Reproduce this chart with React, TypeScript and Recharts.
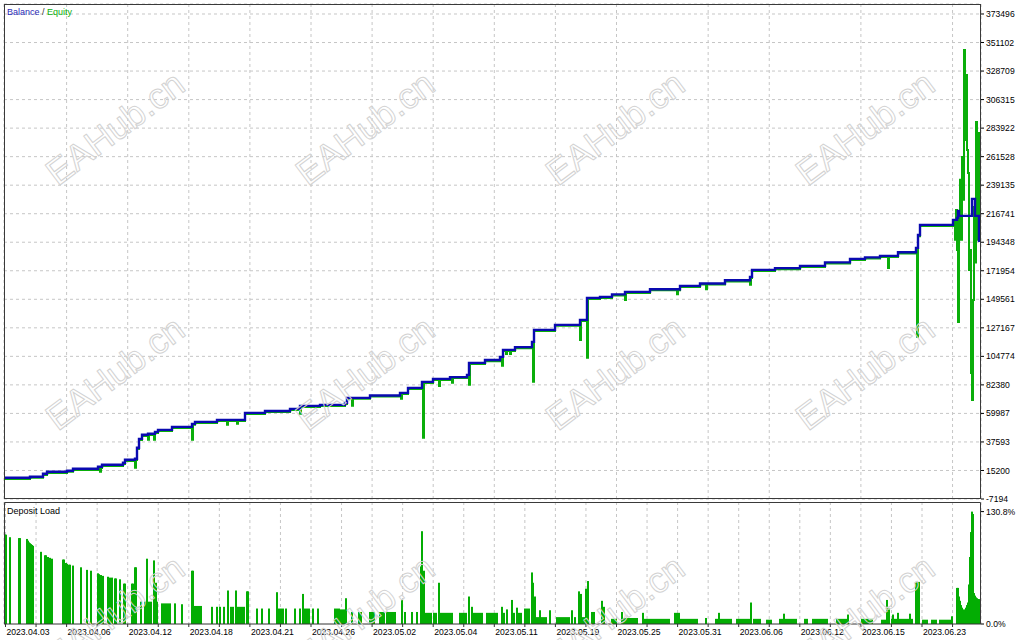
import React from "react";
import { ComposedChart, Line, Bar, XAxis, YAxis, CartesianGrid } from "recharts";

const FONT = "'Liberation Sans', Arial, sans-serif";
const BALANCE_COLOR = "#0a0ab0";
const EQUITY_COLOR = "#0aae0a";
const LOAD_COLOR = "#03ad03";
const GRID_COLOR = "#c6c6c6";

// t = position along the test (same scale for both panels)
const T_MIN = 4;
const T_MAX = 981;
const GRID_START = 5.5;
const GRID_STEP = 30.55;

const DATE_LABELS = [
  "2023.04.03", "2023.04.06", "2023.04.12", "2023.04.18", "2023.04.21", "2023.04.26",
  "2023.05.02", "2023.05.04", "2023.05.11", "2023.05.19", "2023.05.25", "2023.05.31",
  "2023.06.06", "2023.06.12", "2023.06.15", "2023.06.23",
];

const Y_TICKS = [
  -7194, 15200, 37593, 59987, 82380, 104774, 127167, 149561, 171954, 194348,
  216741, 239135, 261528, 283922, 306315, 328709, 351102, 373496,
];
const Y_DOMAIN = [-7194, 381342];

const LOAD_TICKS = [0, 130.8];
const LOAD_DOMAIN = [0, 142];

// balance changes at deal close -> drawn as steps
const balance: [number, number][] = [
  [4, 9442], [30, 10227], [43, 12581], [47, 14150], [67, 14935], [73, 16504], [98, 18073],
  [102, 19642], [123, 21211], [125, 23565], [135, 24350], [137, 32980], [139, 40000],
  [142, 43179], [148, 43964], [155, 45533], [158, 47102], [172, 49456], [192, 51810],
  [195, 53379], [217, 54948], [245, 60441], [265, 61900], [290, 63579], [300, 65933],
  [320, 66717], [345, 68287], [347, 72210], [370, 74000], [400, 76133], [408, 80056],
  [422, 84763], [433, 87117], [450, 88500], [467, 90255], [469, 99671], [485, 101900],
  [500, 104378], [503, 109870], [515, 112000], [532, 116147], [534, 125562], [555, 129500],
  [580, 133408], [587, 150670], [600, 151454], [612, 153400], [625, 155377], [650, 157500],
  [680, 160085], [700, 162000], [725, 164500], [750, 167146], [752, 172638], [775, 174000],
  [800, 175777], [825, 178500], [850, 181269], [865, 182500], [880, 183623], [898, 186500],
  [916, 189900], [918, 200000], [920, 207945], [953, 211868], [957, 213438], [958, 218930],
  [959, 215007], [972, 228345], [975, 215007], [979, 194607],
];

const equity: [number, number][] = [
  [4, 8600], [30, 9400], [43, 11700], [47, 13300], [67, 14100], [73, 15600], [98, 17200],
  [100, 14150], [101, 17200], [102, 18800], [123, 20300], [125, 22700], [135, 17300],
  [136, 23500], [137, 32000], [139, 39200], [142, 42300], [148, 39300], [149, 43100],
  [154, 39300], [155, 44700], [158, 46200], [172, 48600], [192, 39300], [193, 51000],
  [195, 52500], [217, 54100], [227, 51000], [228, 54100], [237, 51800], [238, 54100],
  [245, 59600], [265, 61000], [290, 62700], [300, 59700], [301, 65100], [320, 65900],
  [345, 67400], [347, 71400], [352, 66000], [353, 71400], [370, 73200], [400, 75300],
  [401, 71500], [402, 75300], [408, 79200], [422, 83900], [423, 40800], [424, 83900],
  [433, 86300], [439, 81600], [440, 86300], [450, 87700], [452, 84000], [453, 87700],
  [467, 89400], [469, 82400], [470, 98800], [485, 101000], [500, 103500], [502, 97300],
  [503, 109000], [506, 106700], [507, 109000], [510, 106700], [511, 109000], [515, 111200],
  [532, 115300], [533, 84800], [534, 124700], [555, 128700], [580, 117700], [581, 132600],
  [587, 103600], [588, 149800], [600, 150600], [612, 152600], [625, 149100], [626, 154500],
  [650, 156700], [677, 153500], [678, 156700], [680, 159200], [700, 161100], [706, 157500],
  [707, 161100], [725, 163600], [750, 160900], [751, 166300], [752, 171800], [775, 173100],
  [800, 174900], [825, 177600], [850, 180400], [865, 181600], [880, 182800], [888, 174200],
  [889, 182800], [898, 185600], [916, 189000], [917, 120100], [918, 199000], [920, 207100],
  [953, 210300], [955, 196200], [956, 219700], [957, 188300], [958, 131800], [959, 215800],
  [960, 243300], [961, 196200], [962, 261300], [963, 227600], [964, 345200], [965, 274600],
  [966, 325600], [967, 266800], [968, 248700], [969, 172600], [970, 188300], [971, 91800],
  [972, 70600], [973, 149100], [974, 222100], [975, 178500], [976, 288800], [977, 196200],
  [978, 280100], [979, 207900],
];

// deposit load, percent
const depositLoad: [number, number][] = [
  [5, 104], [6, 104], [10, 101], [19, 100], [20, 100], [27, 99], [28, 97], [29, 95], [30, 94],
  [31, 93], [32, 92], [33, 91], [41, 84], [45, 80], [46, 80], [48, 78], [50, 77], [52, 76],
  [63, 75], [64, 75], [66, 71], [67, 70], [69, 69], [70, 69], [73, 68], [81, 66], [87, 63],
  [91, 62], [98, 59], [99, 58], [101, 57], [103, 56], [108, 55], [110, 54], [112, 54],
  [115, 53], [116, 53], [120, 52], [124, 47], [125, 47], [132, 47], [133, 47], [135, 66],
  [136, 66], [141, 26], [145, 26], [147, 76], [149, 26], [151, 26], [154, 74], [156, 48],
  [157, 26], [162, 24], [164, 24], [166, 24], [168, 24], [170, 24], [175, 24], [182, 23],
  [192, 62], [193, 62], [195, 21], [197, 21], [199, 21], [201, 21], [212, 20], [217, 20],
  [220, 20], [224, 20], [228, 39], [231, 20], [233, 20], [236, 39], [238, 20], [240, 20],
  [242, 20], [244, 20], [247, 38], [248, 38], [257, 18], [262, 18], [269, 18], [277, 37],
  [279, 18], [281, 18], [283, 18], [286, 18], [295, 18], [300, 18], [303, 35], [305, 18],
  [307, 18], [309, 18], [313, 18], [318, 18], [335, 18], [337, 18], [339, 18],
  [341, 17], [343, 17], [345, 17], [346, 30], [352, 14], [359, 14], [361, 14], [370, 14],
  [372, 14], [374, 14], [380, 14], [382, 14], [384, 14], [387, 14], [389, 14], [391, 14],
  [393, 14], [395, 14], [402, 28], [405, 14], [412, 14], [417, 14], [421, 67], [422, 108],
  [424, 62], [425, 13], [427, 13], [429, 13], [431, 13], [434, 13], [436, 13], [439, 48],
  [440, 13], [442, 13], [444, 13], [446, 13], [448, 13], [450, 13], [452, 13], [460, 13],
  [462, 13], [464, 13], [466, 13], [469, 32], [472, 20], [474, 13], [476, 13], [478, 13],
  [480, 13], [482, 13], [487, 13], [489, 13], [491, 13], [493, 13], [495, 13], [497, 13],
  [502, 20], [504, 13], [507, 17], [512, 28], [514, 13], [517, 19], [519, 13], [521, 13],
  [525, 18], [527, 18], [529, 18], [532, 60], [533, 48], [535, 32], [537, 8], [539, 8],
  [540, 16], [542, 8], [544, 8], [546, 8], [550, 16], [557, 8], [559, 8], [561, 8], [563, 8],
  [565, 8], [567, 8], [569, 8], [572, 16], [575, 8], [579, 38], [581, 35], [583, 8], [585, 8],
  [586, 41], [588, 50], [592, 14], [594, 14], [602, 27], [604, 20], [612, 6], [614, 6],
  [616, 6], [622, 14], [623, 7], [625, 7], [627, 7], [629, 7], [631, 7], [633, 7], [635, 7],
  [637, 7], [643, 13], [645, 6], [647, 6], [649, 6], [651, 6], [653, 6], [655, 6], [657, 6],
  [659, 6], [661, 6], [663, 6], [665, 6], [667, 6], [669, 6], [675, 13], [677, 13], [679, 13],
  [681, 6], [683, 6], [685, 6], [687, 6], [689, 6], [691, 6], [693, 6], [695, 6], [697, 6],
  [706, 7], [716, 6], [718, 6], [719, 13], [721, 6], [723, 6], [725, 6], [727, 6], [729, 6],
  [731, 6], [737, 6], [739, 6], [741, 6], [743, 6], [745, 6], [747, 6], [749, 6], [751, 25],
  [754, 6], [756, 6], [758, 6], [760, 6], [767, 5], [769, 5], [771, 5], [780, 6], [782, 6],
  [784, 12], [786, 6], [788, 6], [790, 6], [792, 6], [794, 6], [796, 6], [805, 6], [807, 6],
  [813, 6], [815, 6], [817, 6], [819, 6], [821, 6], [823, 6], [825, 6], [827, 6], [837, 6],
  [839, 6], [841, 6], [843, 6], [845, 6], [847, 6], [848, 11], [862, 6], [864, 6], [866, 6],
  [868, 6], [870, 6], [872, 6], [882, 5], [884, 5], [886, 5], [887, 28], [889, 18], [892, 6],
  [893, 11], [895, 6], [897, 6], [898, 13], [900, 6], [902, 6], [904, 6], [906, 6], [908, 6],
  [910, 12], [912, 6], [916, 49], [917, 49], [918, 35], [919, 49], [923, 5], [925, 5],
  [927, 5], [932, 5], [934, 5], [936, 5], [940, 5], [942, 5], [944, 5], [946, 5], [948, 5],
  [950, 5], [952, 9], [957, 42], [958, 42], [959, 32], [960, 27], [961, 22], [962, 19],
  [963, 17], [964, 16], [965, 17], [966, 19], [967, 22], [968, 25], [969, 46], [970, 78],
  [971, 107], [972, 130.8], [973, 128], [974, 36], [975, 33], [976, 31], [977, 30],
  [978, 29], [979, 29], [980, 28],
];

const balanceData = balance.map(([t, v]) => ({ t, v }));
const equityData = equity.map(([t, v]) => ({ t, v }));
const loadData = depositLoad.map(([t, v]) => ({ t, v }));

const GRID_T = Array.from({ length: 32 }, (_, k) => GRID_START + k * GRID_STEP);

const WATERMARKS = [
  [115, 128], [365, 128], [615, 128], [865, 128],
  [115, 373], [365, 373], [615, 373], [865, 373],
  [115, 612], [365, 612], [615, 612], [865, 612],
];

// MT5 draws each load bar about 2px wide, whatever the spacing
const LoadBar = (p: any) => {
  const { x, y, width, height } = p;
  if (!height || height <= 0 || !isFinite(x)) return null;
  const cx = x + (width || 0) / 2;
  return <rect x={cx - 1} y={y} width={2} height={height} fill={LOAD_COLOR} />;
};

const DateTick = (p: any) => {
  const { x, y, payload } = p;
  const k = Math.round((payload.value - GRID_START) / GRID_STEP);
  if (k % 2 !== 0) return null;
  return (
    <text x={x + 1} y={y} dy="0.71em" fontSize={8.6} fontFamily={FONT} fill="#000">
      {DATE_LABELS[k / 2]}
    </text>
  );
};

const axisTick = { fontSize: 8.6, fill: "#000", fontFamily: FONT };

export default function App() {
  return (
    <div style={{ position: "absolute", left: 0, top: 0, width: 1024, height: 640, background: "#fff", overflow: "hidden" }}>
      {/* Balance / Equity panel */}
      <div style={{ position: "absolute", left: 0, top: 0 }}>
        <ComposedChart width={1024} height={510} margin={{ top: 4, right: 0, bottom: 11, left: 4 }}>
          <CartesianGrid stroke={GRID_COLOR} strokeDasharray="3 3" />
          <XAxis type="number" dataKey="t" domain={[T_MIN, T_MAX]} ticks={GRID_T} allowDataOverflow hide />
          <YAxis
            orientation="right"
            type="number"
            domain={Y_DOMAIN}
            ticks={Y_TICKS}
            interval={0}
            allowDataOverflow
            width={43}
            axisLine={false}
            tickSize={3}
            tickMargin={2}
            tickLine={{ stroke: "#000" }}
            tick={axisTick}
          />
          <Line data={equityData} dataKey="v" type="stepAfter" stroke={EQUITY_COLOR} strokeWidth={2}
            dot={false} activeDot={false} isAnimationActive={false} />
          <Line data={balanceData} dataKey="v" type="stepAfter" stroke={BALANCE_COLOR} strokeWidth={2.4}
            dot={false} activeDot={false} isAnimationActive={false} />
        </ComposedChart>
      </div>

      {/* Deposit load panel */}
      <div style={{ position: "absolute", left: 0, top: 499 }}>
        <ComposedChart width={1024} height={141} data={loadData} margin={{ top: 3, right: 0, bottom: 0, left: 4 }}>
          <CartesianGrid stroke={GRID_COLOR} strokeDasharray="3 3" horizontal={false} />
          <XAxis
            type="number"
            dataKey="t"
            domain={[T_MIN, T_MAX]}
            ticks={GRID_T}
            interval={0}
            allowDataOverflow
            height={16}
            tickSize={3}
            axisLine={{ stroke: "#333" }}
            tickLine={{ stroke: "#333" }}
            tick={<DateTick />}
          />
          <YAxis
            orientation="right"
            type="number"
            domain={LOAD_DOMAIN}
            ticks={LOAD_TICKS}
            interval={0}
            allowDataOverflow
            width={43}
            axisLine={false}
            tickSize={3}
            tickMargin={2}
            tickLine={{ stroke: "#000" }}
            tick={axisTick}
            tickFormatter={(v: number) => `${v.toFixed(1)}%`}
          />
          <Bar dataKey="v" shape={<LoadBar />} isAnimationActive={false} />
        </ComposedChart>
      </div>

      {/* frames, captions, watermark */}
      <svg width={1024} height={640} style={{ position: "absolute", left: 0, top: 0, pointerEvents: "none" }}>
        <rect x={4.5} y={4.5} width={976} height={494} fill="none" stroke="#3a3a3a" />
        <polyline points="4.5,624 4.5,502.5 980.5,502.5 980.5,624" fill="none" stroke="#3a3a3a" />
        <text x={7} y={15} fontSize={9} fontFamily={FONT}>
          <tspan fill="#2a2ab8">Balance</tspan>
          <tspan fill="#333"> / </tspan>
          <tspan fill={EQUITY_COLOR}>Equity</tspan>
        </text>
        <text x={7} y={514} fontSize={9} fontFamily={FONT} fill="#000">Deposit Load</text>
        {WATERMARKS.map(([cx, cy], i) => (
          <text
            key={i}
            x={cx}
            y={cy}
            textAnchor="middle"
            dominantBaseline="central"
            fontSize={36}
            fontFamily={FONT}
            fill="none"
            stroke="#d2d2d2"
            strokeWidth={1}
            transform={`rotate(-37 ${cx} ${cy})`}
          >
            EAHub.cn
          </text>
        ))}
      </svg>
    </div>
  );
}
